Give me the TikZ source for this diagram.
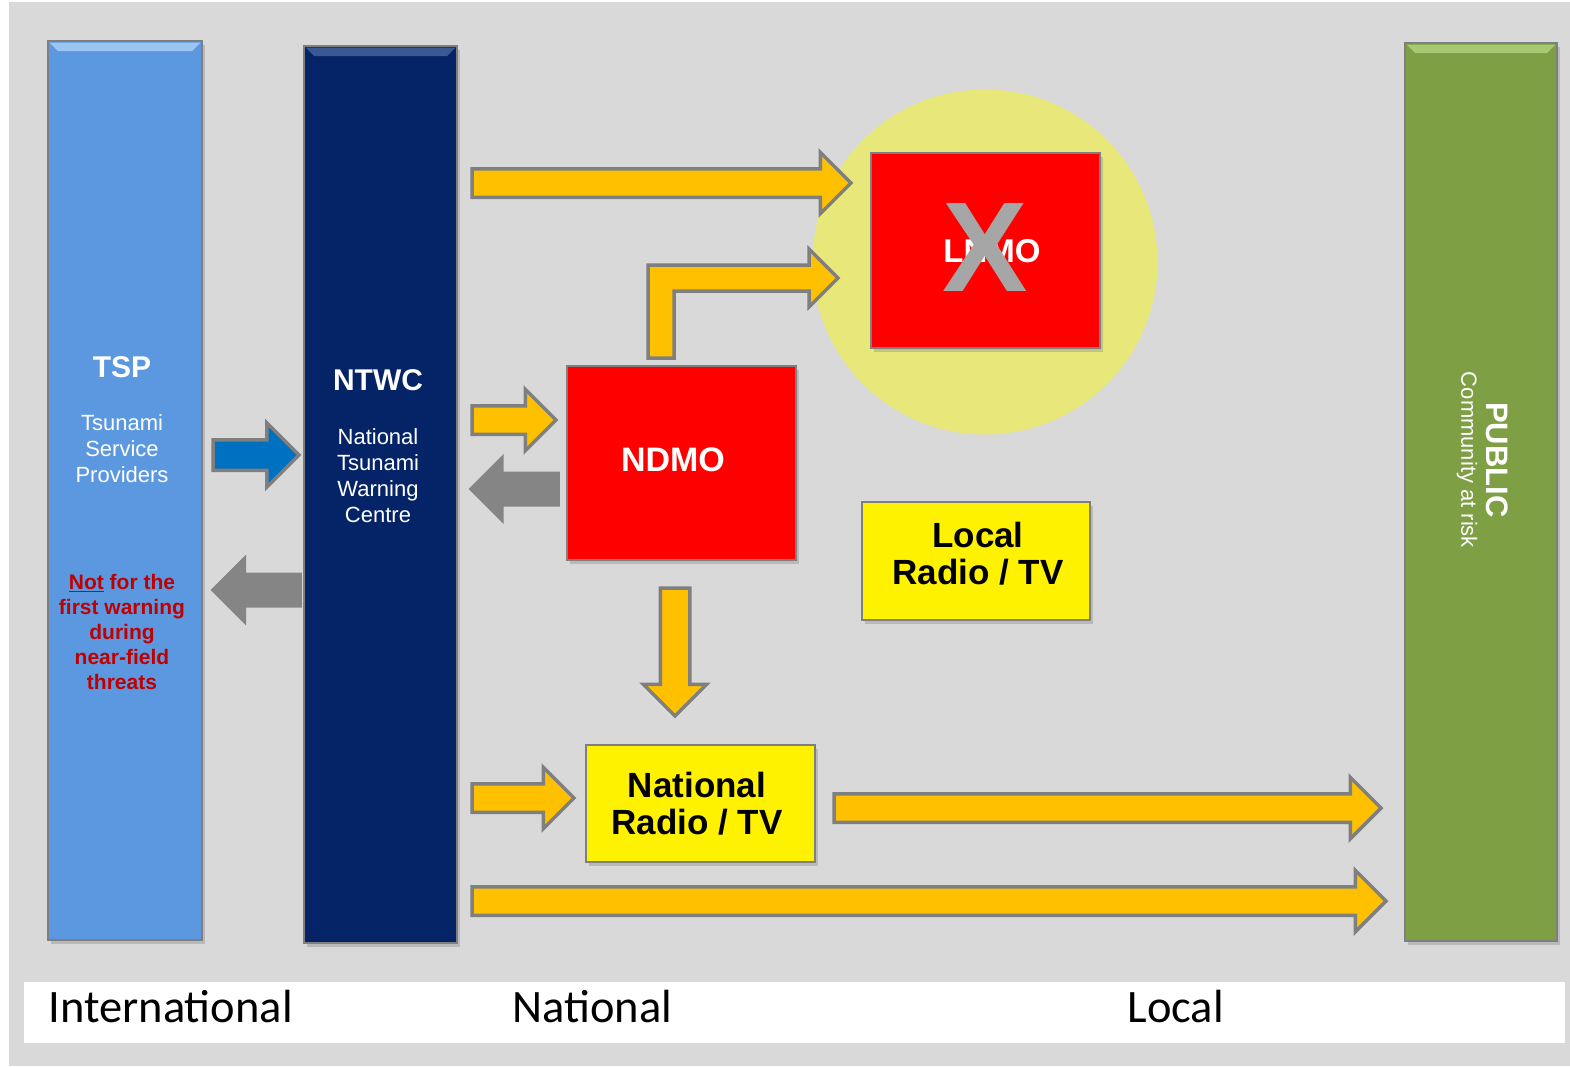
\documentclass[tikz,border=0pt]{standalone}
\usepackage{fontspec}
\setmainfont{Liberation Sans}
\newfontfamily\regionfont{Carlito}
\usepackage{xcolor}
\usetikzlibrary{shapes.arrows,shadows,calc}
\definecolor{panelgray}{HTML}{D9D9D9}
\definecolor{edgegray}{HTML}{7F7F7F}
\definecolor{tspblue}{HTML}{5C98E0}
\definecolor{tsplight}{HTML}{9CC6F2}
\definecolor{ntwcblue}{HTML}{052467}
\definecolor{ntwclight}{HTML}{3A5894}
\definecolor{publicgreen}{HTML}{7F9F45}
\definecolor{publiclight}{HTML}{A9C874}
\definecolor{zoneyellow}{HTML}{E8E87A}
\definecolor{flowyellow}{HTML}{FFC000}
\definecolor{flowblue}{HTML}{0070C0}
\definecolor{crossgray}{HTML}{A6A6A6}
\definecolor{notered}{HTML}{C00000}
\newcommand{\sz}[2]{\fontsize{#1}{#2}\selectfont}

\begin{document}
\begin{tikzpicture}[x=1pt,y=-1pt,
  bar/.style={draw=edgegray, line width=2.5, inner sep=0, outer sep=0,
    drop shadow={shadow xshift=3pt, shadow yshift=-4pt, opacity=0.35}},
  box/.style={bar, minimum width=229, minimum height=195},
  title/.style={text=white, font=\bfseries\sz{30}{36}},
  subtitle/.style={text=white, font=\sz{22}{26}, align=center},
  note/.style={text=notered, font=\bfseries\sz{21}{25}, align=center},
  boxtitle/.style={font=\bfseries\sz{35}{37}, align=center},
  region/.style={anchor=base west, font=\regionfont\sz{46.5}{50}},
  flow/.style={single arrow, draw=edgegray, fill=flowyellow, line width=3.5,
    inner xsep=0, inner ysep=12.5, outer sep=0, single arrow head extend=16.5,
    anchor=tail, minimum height=#1},
  back/.style={flow=#1, draw=edgegray!95, fill=edgegray!95, inner ysep=14,
    single arrow head extend=15, shape border rotate=180}]
\useasboundingbox (0,0) rectangle (1570,1066);
\fill[white] (0,0) rectangle (1570,1066);
\fill[panelgray] (9,2) rectangle (1570,1066);
\fill[white] (24,982) rectangle (1565,1043);

% columns
\node (tsp) [bar, fill=tspblue, minimum width=154, minimum height=899] at (125,490.5) {};
\node (ntwc) [bar, fill=ntwcblue, minimum width=153, minimum height=897] at (380.5,494.5) {};
\node (public) [bar, fill=publicgreen, minimum width=152, minimum height=898] at (1481,492) {};
\fill[tsplight] ($(tsp.north west)+(1.5,1.5)$) -- ($(tsp.north east)+(-1.5,1.5)$) -- ($(tsp.north east)+(-10,10)$) -- ($(tsp.north west)+(10,10)$) -- cycle;
\fill[ntwclight] ($(ntwc.north west)+(1.5,1.5)$) -- ($(ntwc.north east)+(-1.5,1.5)$) -- ($(ntwc.north east)+(-10,10)$) -- ($(ntwc.north west)+(10,10)$) -- cycle;
\fill[publiclight] ($(public.north west)+(1.5,1.5)$) -- ($(public.north east)+(-1.5,1.5)$) -- ($(public.north east)+(-10,10)$) -- ($(public.north west)+(10,10)$) -- cycle;

\node (tsptitle) [title] at (122,367) {TSP};
\node (tspname) [subtitle] at (122,449) {Tsunami\\Service\\Providers};
\node (tspnote) [note] at (122,632) {\underline{Not} for the\\first warning\\during\\near-field\\threats};
\node (ntwctitle) [title] at (378,380) {NTWC};
\node (ntwcname) [subtitle] at (378,476) {National\\Tsunami\\Warning\\Centre};
\node (publictitle) [title, font=\bfseries\sz{31}{36}, rotate=-90] at (1497,460) {PUBLIC};
\node (publicname) [subtitle, rotate=-90] at (1467,460) {Community at risk};

% agencies
\node (zone) [circle, fill=zoneyellow, minimum size=345, inner sep=0] at (985,262) {};
\node (lnmo) [box, fill=red] at (985.5,250.5) {};
\node (ndmo) [box, fill=red, minimum height=194] at (681.5,463) {};
\node (localtv) [box, fill=yellow, minimum width=228, minimum height=118] at (976,561) {};
\node (nattv) [box, fill=yellow, minimum height=117] at (700.5,803.5) {};
\node (lnmotext) [boxtitle, text=white, font=\bfseries\sz{33}{37}] at (992,251) {LNMO};
\node (cross) [text=crossgray, font=\bfseries\sz{128}{128}] at (985,247) {X};
\node (ndmotext) [boxtitle, text=white, font=\bfseries\sz{34}{37}] at (673,460) {NDMO};
\node (localtext) [boxtitle] at (978,554) {Local\\Radio / TV};
\node (nattext) [boxtitle] at (697,804) {National\\Radio / TV};

% flows
\node (tolnmo) [flow=379] at (472,183) {};
\node (tondmo) [flow=84] at (472,420) {};
\node (tontwc) [back=87] at (558,489) {};
\node (fromtsp) [flow=86, fill=flowblue, inner ysep=13.5, single arrow head extend=17] at (213,455) {};
\node (totsp) [back=87, single arrow head extend=15.5] at (300,590) {};
\node (tonattv) [flow=128, inner xsep=13, inner ysep=0, single arrow head extend=17, shape border rotate=270] at (675,588) {};
\node (nattvin) [flow=102] at (472,798) {};
\node (nattvout) [flow=547] at (834,808) {};
\node (topublic) [flow=914] at (472,901) {};
\draw[draw=edgegray, fill=flowyellow, line width=3.5, line join=miter]
  (648,358) -- (648,265) -- (809,265) -- (809,249) -- (838,278)
  -- (809,307) -- (809,291) -- (674,291) -- (674,358) -- cycle;

% regions
\node (intl) [region] at (45,1022) {International};
\node (natl) [region] at (509,1022) {National};
\node (locl) [region] at (1124,1022) {Local};
\end{tikzpicture}
\end{document}
